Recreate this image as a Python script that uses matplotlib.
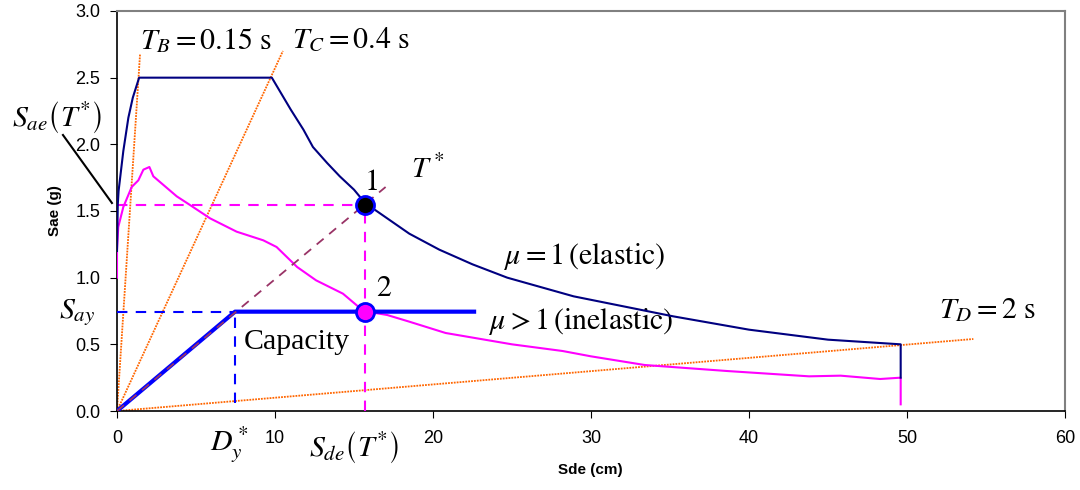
import matplotlib
matplotlib.use("Agg")
import matplotlib.pyplot as plt

plt.rcParams['mathtext.fontset'] = 'stix'
plt.rcParams['font.family'] = ['Liberation Sans', 'DejaVu Sans']

# Elastic spectrum (mu = 1), ADRS format: Sde (cm), Sae (g)
el_sd = [0, 0.05, 0.1, 0.4, 0.72, 1.0, 1.4, 9.8, 10.4, 11.0, 11.8, 12.4, 13.3, 14.1, 15.0, 15.7,
         17.1, 18.5, 20.4, 22.5, 24.7, 28.9, 33.1, 35.2, 40, 45, 49.6, 49.6]
el_sa = [1.2, 1.55, 1.65, 1.95, 2.2, 2.35, 2.5, 2.5, 2.38, 2.26, 2.11, 1.98, 1.86, 1.76, 1.66, 1.56,
         1.445, 1.33, 1.21, 1.10, 1.0, 0.86, 0.76, 0.71, 0.61, 0.535, 0.50, 0.25]

# Inelastic spectrum (mu > 1)
in_sd = [0, 0.0, 0.08, 0.4, 0.93, 1.35, 1.67, 2.05, 2.3, 3.78, 4.62, 5.89, 7.57, 9.26, 10.1, 11.4,
         12.6, 14.3, 15.6, 17.1, 18.5, 20.8, 25, 28.2, 30, 33.4, 38.6, 43.8, 45.8, 48.3, 49.6, 49.6]
in_sa = [1.0, 1.21, 1.38, 1.53, 1.68, 1.73, 1.81, 1.83, 1.76, 1.61, 1.545, 1.445, 1.345, 1.28, 1.23, 1.08,
         0.98, 0.88, 0.75, 0.72, 0.67, 0.585, 0.50, 0.45, 0.41, 0.345, 0.30, 0.26, 0.265, 0.24, 0.25, 0.05]

# Period lines through origin (end points)
tb_line = ([0, 1.46], [0, 2.68])
tc_line = ([0, 10.5], [0, 2.70])
td_line = ([0, 54.2], [0, 0.54])
tstar_line = ([0, 17.0], [0, 1.68])

# Capacity curve (bilinear)
cap_sd = [0, 7.47, 22.6]
cap_sa = [0, 0.745, 0.745]

# Performance points
p1 = (15.7, 1.545)
p2 = (15.7, 0.745)

fig = plt.figure(figsize=(10.8, 4.9), dpi=100)
ax = fig.add_axes([117/1080, 1-411/490, (1065-117)/1080, (411-11)/490])

ax.set_xlim(0, 60)
ax.set_ylim(0, 3.0)
ax.set_xticks(range(0, 61, 10))
ax.set_yticks([0, 0.5, 1.0, 1.5, 2.0, 2.5, 3.0])
ax.set_yticklabels(['0.0', '0.5', '1.0', '1.5', '2.0', '2.5', '3.0'])
ax.tick_params(axis='both', labelsize=13, direction='out', length=5, colors='black')
ax.tick_params(axis='x', pad=9)
ax.tick_params(axis='y', pad=7)
for s in ['top', 'right']:
    ax.spines[s].set_color('#808080')
    ax.spines[s].set_linewidth(1.5)
for s in ['left', 'bottom']:
    ax.spines[s].set_color('black')
    ax.spines[s].set_linewidth(1.2)

orange = '#FF6600'
for xs, ys in [tb_line, tc_line, td_line]:
    ax.plot(xs, ys, color=orange, lw=1.3, ls=(0, (1, 0.6)), zorder=2)

ax.plot(in_sd, in_sa, color='#FF00FF', lw=1.5, zorder=3)
ax.plot(el_sd, el_sa, color='#000080', lw=1.5, zorder=4)

# dashed guide lines
dash = (0, (5, 4))
ax.plot([0, p1[0]], [p1[1], p1[1]], color='#FF00FF', lw=1.5, ls=dash, zorder=3)
ax.plot([p1[0], p1[0]], [0, p1[1]], color='#FF00FF', lw=1.5, ls=dash, zorder=3)
ax.plot([0, cap_sd[1]], [cap_sa[1], cap_sa[1]], color='#0000FF', lw=1.5, ls=dash, zorder=3)
ax.plot([cap_sd[1], cap_sd[1]], [0.06, cap_sa[1]], color='#0000FF', lw=1.5, ls=dash, zorder=3)

ax.plot(cap_sd, cap_sa, color='#0000FF', lw=3, zorder=5)
ax.plot(*tstar_line, color='#993366', lw=1.3, ls=dash, zorder=6)

ax.plot(*p1, 'o', ms=13, mfc='black', mec='#0000FF', mew=2, zorder=7)
ax.plot(*p2, 'o', ms=13, mfc='#FF00FF', mec='#0000FF', mew=2, zorder=7)

fs = 21.5
ax.text(1.46, 2.78, r'$T_B = 0.15\ \mathrm{s}$', fontsize=fs, ha='left', va='center')
ax.text(11.1, 2.78, r'$T_C = 0.4\ \mathrm{s}$', fontsize=fs, ha='left', va='center')
ax.text(-3.8, 2.2, r'$S_{ae}\left(T^{*}_{\,}\right)$', fontsize=fs, ha='center', va='center', clip_on=False)
ax.plot([-3.42, -0.32], [2.07, 1.56], color='black', lw=1.5, clip_on=False)
ax.text(19.7, 1.81, r'$T^*$', fontsize=fs, ha='center', va='center')
ax.text(16.1, 1.72, r'$1$', fontsize=fs, ha='center', va='center')
ax.text(16.9, 0.92, r'$2$', fontsize=fs, ha='center', va='center')
ax.text(-3.7, 0.74, r'$S_{ay}$', fontsize=fs, ha='left', va='center', clip_on=False)
ax.text(11.4, 0.52, 'Capacity', fontsize=fs, ha='center', va='center', family='Liberation Serif')
ax.text(29.6, 1.155, r'$\mu = 1\,\mathrm{(elastic)}$', fontsize=fs, ha='center', va='center')
ax.text(29.4, 0.67, r'$\mu > 1\,\mathrm{(inelastic)}$', fontsize=fs, ha='center', va='center')
ax.text(55.1, 0.76, r'$T_D = 2\ \mathrm{s}$', fontsize=fs, ha='center', va='center')
ax.text(7.15, -0.25, r'$D_y^*$', fontsize=fs, ha='center', va='center', clip_on=False)
ax.text(15.0, -0.27, r'$S_{de}\left(T^{*}_{\,}\right)$', fontsize=fs, ha='center', va='center', clip_on=False)

fig.text(55/1080, 1-211/490, 'Sae (g)', rotation=90, fontsize=11, fontweight='bold', ha='center', va='center')
fig.text(590/1080, 1-470/490, 'Sde (cm)', fontsize=11, fontweight='bold', ha='center', va='center')

fig.savefig('out.png', dpi=100)
